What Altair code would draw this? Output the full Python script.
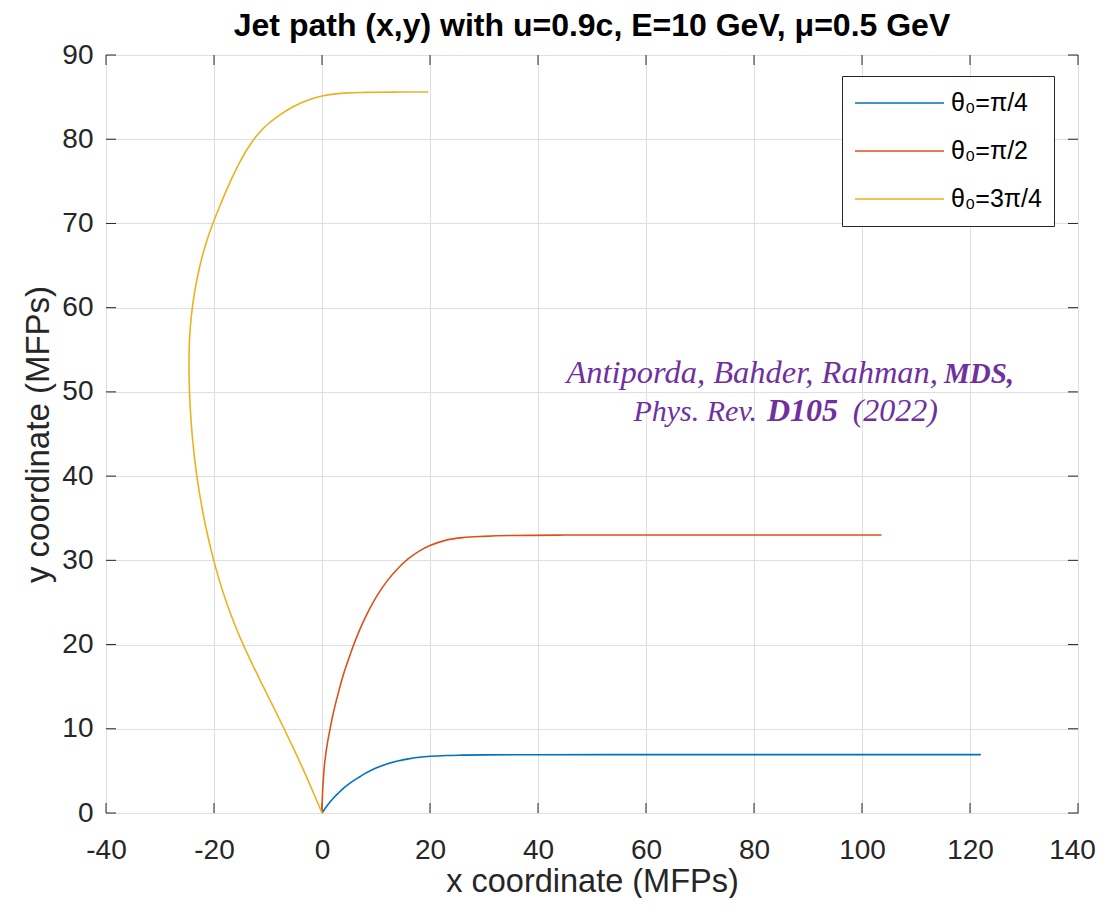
import altair as alt
import pandas as pd

# ---- data ----
series_names = ["θ₀=π/4", "θ₀=π/2", "θ₀=3π/4"]
series_colors = ["#0072BD", "#D95319", "#EDB120"]

blue_x = [0, 0.5, 1, 2, 3, 4, 5, 6, 7, 8, 10, 12, 14, 16, 18, 20, 23, 26, 30, 40, 60, 80, 100, 122]
blue_y = [0, 0.48, 0.92, 1.7, 2.35, 2.95, 3.45, 3.9, 4.3, 4.7, 5.35, 5.83, 6.17, 6.43, 6.61, 6.73,
          6.83, 6.87, 6.9, 6.92, 6.93, 6.93, 6.93, 6.93]

red_x = [0, 0.05, 0.2, 0.5, 1, 1.5, 2, 3, 4, 5, 6, 8, 10, 12, 14, 16, 18, 20, 23, 26, 30, 35, 45, 103.6]
red_y = [0, 1.5, 3.5, 6, 8.3, 10, 11.6, 14.2, 16.5, 18.4, 20.2, 23.2, 25.6, 27.5, 29.0, 30.2, 31.1,
         31.75, 32.4, 32.7, 32.85, 32.95, 33.0, 33.0]

yellow_x = [0, -1.66, -3.36, -5.15, -7.01, -8.93, -10.87, -12.78, -14.59, -16.24, -17.69, -18.95,
            -20.05, -21.85, -23.18, -24.06, -24.54, -24.63, -24.55, -24.2, -23.55, -22.6, -21.3,
            -20.2, -18.9, -17.5, -16.2, -15.0, -13.8, -12.6, -11.3, -10.0, -8.75, -7.5, -5.0, -2.5,
            0, 2.5, 5, 7.5, 10, 15, 19.7]
yellow_y = [0, 2.5, 5, 7.5, 10, 12.5, 15, 17.5, 20, 22.5, 25, 27.5, 30, 35, 40, 45, 50, 53, 56,
            59, 62, 65, 68, 70, 72.1, 74.23, 76.03, 77.54, 78.87, 80.0, 81.0, 81.81, 82.45, 83.01,
            83.97, 84.67, 85.13, 85.38, 85.5, 85.55, 85.58, 85.6, 85.6]

x_ticks = [-40, -20, 0, 20, 40, 60, 80, 100, 120, 140]
y_ticks = [0, 10, 20, 30, 40, 50, 60, 70, 80, 90]

rows = []
for name, xs, ys in zip(series_names, [blue_x, red_x, yellow_x], [blue_y, red_y, yellow_y]):
    for i, (xv, yv) in enumerate(zip(xs, ys)):
        rows.append({"series": name, "x": xv, "y": yv, "i": i})
df = pd.DataFrame(rows)

W, H = 972, 758
FONT = "Liberation Sans"
AX = "#262626"
LABEL_EXPR = "datum.value < 0 ? '-' + abs(datum.value) : '' + datum.value"

xscale = alt.Scale(domain=[-40, 140], nice=False, zero=False)
yscale = alt.Scale(domain=[0, 90], nice=False, zero=False)

x_axis = alt.Axis(values=x_ticks, grid=True, gridColor="#dfdfdf", gridWidth=1, ticks=False,
                  domain=False, labelFont=FONT, labelFontSize=28, labelColor=AX,
                  labelPadding=23, labelFlush=False, labelOverlap=False, labelExpr=LABEL_EXPR,
                  labelOffset={"condition": {"test": "datum.value == 140", "value": -6}, "value": 0},
                  titleFont=FONT, titleFontSize=32.5, titleFontWeight="normal", titleColor=AX,
                  titleY=78, titleBaseline="alphabetic")
y_axis = alt.Axis(values=y_ticks, grid=True, gridColor="#dfdfdf", gridWidth=1, ticks=False,
                  domain=False, labelFont=FONT, labelFontSize=28, labelColor=AX,
                  labelPadding=13, labelFlush=False, labelOverlap=False, labelExpr=LABEL_EXPR,
                  titleFont=FONT, titleFontSize=33, titleFontWeight="normal", titleColor=AX,
                  titleX=-68, titleBaseline="middle")
XT = "x coordinate (MFPs)"
YT = "y coordinate (MFPs)"

lines = alt.Chart(df).mark_line(strokeWidth=1.6, interpolate="catmull-rom").encode(
    x=alt.X("x:Q", scale=xscale, axis=x_axis, title=XT),
    y=alt.Y("y:Q", scale=yscale, axis=y_axis, title=YT),
    color=alt.Color("series:N", scale=alt.Scale(domain=series_names, range=series_colors),
                    legend=alt.Legend(orient="none", legendX=736, legendY=21, title=None,
                                      symbolType="stroke", symbolSize=7921, symbolStrokeWidth=1.6,
                                      clipHeight=30, rowPadding=18, padding=12,
                                      labelFont=FONT, labelFontSize=25, labelColor="black",
                                      labelOffset=6, labelLimit=0, strokeColor=AX,
                                      fillColor="white")),
    order="i:Q",
)

xt_df = pd.DataFrame({"v": x_ticks})
yt_df = pd.DataFrame({"v": y_ticks})
tick_bottom = alt.Chart(xt_df).mark_rule(color=AX, strokeWidth=1).encode(
    x=alt.X("v:Q", scale=xscale, axis=x_axis, title=XT), y=alt.value(H), y2=alt.value(H - 10))
tick_top = alt.Chart(xt_df).mark_rule(color=AX, strokeWidth=1).encode(
    x=alt.X("v:Q", scale=xscale, axis=x_axis, title=XT), y=alt.value(0), y2=alt.value(10))
tick_left = alt.Chart(yt_df).mark_rule(color=AX, strokeWidth=1).encode(
    y=alt.Y("v:Q", scale=yscale, axis=y_axis, title=YT), x=alt.value(0), x2=alt.value(10))
tick_right = alt.Chart(yt_df).mark_rule(color=AX, strokeWidth=1).encode(
    y=alt.Y("v:Q", scale=yscale, axis=y_axis, title=YT), x=alt.value(W), x2=alt.value(W - 10))

PURPLE = "#7030A0"
SERIF = "Liberation Serif"

def note(text, px, py, align, bold, size):
    return alt.Chart(pd.DataFrame({"t": [text]})).mark_text(
        font=SERIF, fontSize=size, fontStyle="italic", fontWeight="bold" if bold else "normal",
        color=PURPLE, align=align, baseline="alphabetic").encode(
        text="t:N", x=alt.value(px - 106), y=alt.value(py - 55))

notes = [
    note("Antiporda, Bahder, Rahman,", 938, 383, "right", False, 32.5),
    note("MDS,", 944, 383, "left", True, 29),
    note("Phys. Rev.", 757, 421, "right", False, 30),
    note("D105", 767, 421, "left", True, 32),
    note("(2022)", 938, 421, "right", False, 32),
]

chart = alt.layer(tick_bottom, tick_top, tick_left, tick_right, lines, *notes).properties(
    width=W, height=H,
    autosize="none",
    padding={"left": 98, "top": 47, "right": 18, "bottom": 85},
    background="white",
    title=alt.TitleParams("Jet path (x,y) with u=0.9c, E=10 GeV, μ=0.5 GeV", font=FONT,
                          fontSize=32, fontWeight="bold", color="black", anchor="middle",
                          offset=-2),
).configure_view(stroke=AX, strokeWidth=1)

chart.save("out.html", embed_options={"renderer": "svg", "actions": False})
